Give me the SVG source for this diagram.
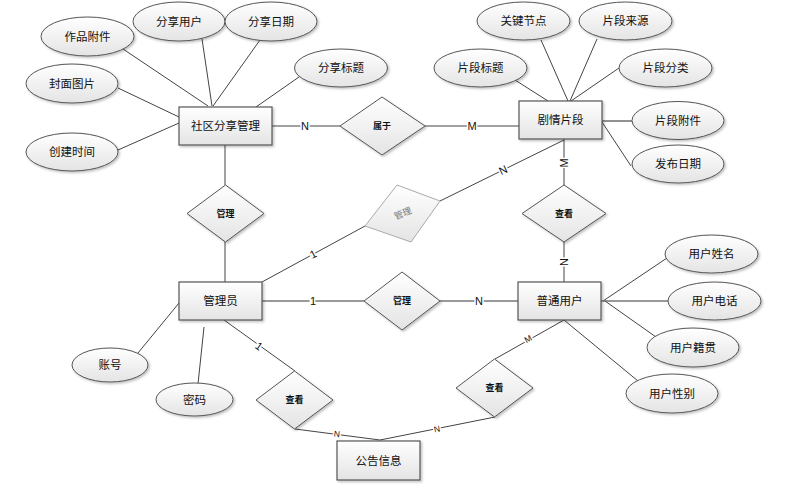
<svg xmlns="http://www.w3.org/2000/svg" width="790" height="489" viewBox="0 0 790 489">
<defs>
<linearGradient id="g" x1="0" y1="0" x2="0" y2="1"><stop offset="0" stop-color="#ffffff"/><stop offset="1" stop-color="#e4e4e4"/></linearGradient>
<filter id="sh" x="-20%" y="-20%" width="150%" height="150%"><feDropShadow dx="1.5" dy="1.5" stdDeviation="1" flood-color="#000" flood-opacity="0.25"/></filter>
</defs>
<style>
.ent{fill:url(#g);stroke:#555;stroke-width:1.2;filter:url(#sh)}
.att{fill:url(#g);stroke:#555;stroke-width:1;filter:url(#sh)}
.rel{fill:url(#g);stroke:#555;stroke-width:1;filter:url(#sh)}
.t{font-family:"Liberation Sans","Noto Sans CJK SC",sans-serif;font-size:11.5px;fill:#111;text-anchor:middle;dominant-baseline:central}
.r{font-family:"Liberation Sans","Noto Sans CJK SC",sans-serif;font-size:9px;font-weight:bold;fill:#111;text-anchor:middle;dominant-baseline:central}
.c line{stroke:#444;stroke-width:1}
.lb{font-family:"Liberation Sans","Noto Sans",sans-serif;font-size:11px;fill:#111;text-anchor:middle;dominant-baseline:central;stroke:#fff;stroke-width:3;paint-order:stroke}
.sm{font-size:8.5px}
</style>
<rect width="790" height="489" fill="#fff"/>
<g id="connectors" class="c">
<line x1="123" y1="49" x2="208" y2="106"/>
<line x1="202" y1="39" x2="212" y2="106"/>
<line x1="260" y1="40" x2="213" y2="106"/>
<line x1="299" y1="77" x2="256" y2="107"/>
<line x1="118" y1="88" x2="179" y2="117"/>
<line x1="118" y1="150" x2="179" y2="123"/>
<line x1="272" y1="126" x2="340" y2="126"/>
<line x1="425" y1="126" x2="519" y2="126"/>
<line x1="225" y1="145" x2="225" y2="185"/>
<line x1="225" y1="242" x2="225" y2="282"/>
<line x1="515" y1="80" x2="548" y2="101"/>
<line x1="541" y1="40" x2="568" y2="101"/>
<line x1="597" y1="39" x2="570" y2="101"/>
<line x1="619" y1="68" x2="571" y2="101"/>
<line x1="602" y1="121" x2="632" y2="121" style="stroke:#777;stroke-width:1.6"/>
<line x1="602" y1="122" x2="631" y2="166"/>
<line x1="564" y1="139" x2="564" y2="185"/>
<line x1="564" y1="242" x2="564" y2="282"/>
<line x1="564" y1="140" x2="440" y2="201"/>
<line x1="262" y1="282" x2="365" y2="226"/>
<line x1="262" y1="301" x2="364" y2="301" style="stroke:#777;stroke-width:1.6"/>
<line x1="440" y1="301" x2="518" y2="301" style="stroke:#777;stroke-width:1.6"/>
<line x1="138" y1="353" x2="179" y2="303"/>
<line x1="204" y1="327" x2="198" y2="384"/>
<line x1="224" y1="320" x2="295" y2="371"/>
<line x1="295" y1="429" x2="380" y2="440"/>
<line x1="495" y1="417" x2="380" y2="440"/>
<line x1="564" y1="320" x2="495" y2="359"/>
<line x1="667" y1="258" x2="603" y2="301"/>
<line x1="601" y1="301" x2="668" y2="301" style="stroke:#777;stroke-width:1.6"/>
<line x1="605" y1="301" x2="656" y2="337"/>
<line x1="564" y1="320" x2="638" y2="381"/>
<text class="lb" x="305" y="126">N</text>
<text class="lb" x="472" y="126">M</text>
<text class="lb" x="564" y="163" transform="rotate(-90 564 163)">M</text>
<text class="lb" x="564" y="262" transform="rotate(-90 564 262)">N</text>
<text class="lb" x="503" y="170" transform="rotate(-26 503 170)">N</text>
<text class="lb" x="313" y="254" transform="rotate(-28 313 254)">1</text>
<text class="lb" x="313" y="301">1</text>
<text class="lb" x="479" y="301">N</text>
<text class="lb" x="259" y="346" transform="rotate(36 259 346)">1</text>
<text class="lb sm" x="337" y="434" transform="rotate(7 337 434)">N</text>
<text class="lb sm" x="437" y="429" transform="rotate(-11 437 429)">N</text>
<text class="lb sm" x="528" y="339" transform="rotate(-30 528 339)">M</text>
</g>
<g id="e-shequ"><rect class="ent" x="179" y="107" width="93" height="38"/><text class="t" x="225.5" y="126">社区分享管理</text></g>
<g id="e-juqing"><rect class="ent" x="519" y="101" width="83" height="38"/><text class="t" x="560.5" y="120">剧情片段</text></g>
<g id="e-admin"><rect class="ent" x="179" y="282" width="83" height="38"/><text class="t" x="220.5" y="301">管理员</text></g>
<g id="e-user"><rect class="ent" x="518" y="282" width="83" height="38"/><text class="t" x="559.5" y="301">普通用户</text></g>
<g id="e-notice"><rect class="ent" x="337" y="441" width="83" height="39"/><text class="t" x="378.5" y="460.5">公告信息</text></g>
<g id="r-shuyu"><polygon class="rel" points="382,97 425,126 382,155 340,126"/><text class="r" x="382" y="126">属于</text></g>
<g id="r-guanli1"><polygon class="rel" points="225.5,185 264,213.5 225.5,242 187,213.5"/><text class="r" x="225.5" y="213.5">管理</text></g>
<g id="r-chakan1"><polygon class="rel" points="564,185 606,213.5 564,242 522,213.5"/><text class="r" x="564" y="213.5">查看</text></g>
<g id="r-guanli2"><polygon points="397,185 440,201 411,242 365,226" style="fill:url(#g);stroke:#aaa;stroke-width:1"/><text class="r" x="403" y="213.5" style="fill:#777;font-weight:normal" transform="rotate(-22 403 213.5)">管理</text></g>
<g id="r-guanli3"><polygon class="rel" points="402,272 440,301 402,330 364,301"/><text class="r" x="402" y="301">管理</text></g>
<g id="r-chakan2"><polygon class="rel" points="294.5,371 333,400 294.5,429 256,400"/><text class="r" x="294.5" y="400">查看</text></g>
<g id="r-chakan3"><polygon class="rel" points="494.5,359 533,388 494.5,417 456,388"/><text class="r" x="494.5" y="388">查看</text></g>
<g id="a-zuopin"><ellipse class="att" cx="87.5" cy="36.5" rx="46.5" ry="19.5"/><text class="t" x="87.5" y="36.5">作品附件</text></g>
<g id="a-fxyh"><ellipse class="att" cx="179" cy="21.5" rx="46" ry="19.5"/><text class="t" x="179" y="21.5">分享用户</text></g>
<g id="a-fxrq"><ellipse class="att" cx="271" cy="21.5" rx="46" ry="19.5"/><text class="t" x="271" y="21.5">分享日期</text></g>
<g id="a-fxbt"><ellipse class="att" cx="341" cy="68" rx="46.5" ry="19"/><text class="t" x="341" y="68">分享标题</text></g>
<g id="a-fmtp"><ellipse class="att" cx="72" cy="83.5" rx="46" ry="19.5"/><text class="t" x="72" y="83.5">封面图片</text></g>
<g id="a-cjsj"><ellipse class="att" cx="72" cy="152" rx="46" ry="19"/><text class="t" x="72" y="152">创建时间</text></g>
<g id="a-gjjd"><ellipse class="att" cx="523.5" cy="21" rx="46.5" ry="19"/><text class="t" x="523.5" y="21">关键节点</text></g>
<g id="a-pdly"><ellipse class="att" cx="625.5" cy="21" rx="46.5" ry="19"/><text class="t" x="625.5" y="21">片段来源</text></g>
<g id="a-pdbt"><ellipse class="att" cx="480.5" cy="68" rx="46.5" ry="19"/><text class="t" x="480.5" y="68">片段标题</text></g>
<g id="a-pdfl"><ellipse class="att" cx="665.5" cy="68" rx="46.5" ry="19"/><text class="t" x="665.5" y="68">片段分类</text></g>
<g id="a-pdfj"><ellipse class="att" cx="678" cy="120.5" rx="46" ry="19"/><text class="t" x="678" y="120.5">片段附件</text></g>
<g id="a-fbrq"><ellipse class="att" cx="678" cy="164" rx="46" ry="19"/><text class="t" x="678" y="164">发布日期</text></g>
<g id="a-zh"><ellipse class="att" cx="110" cy="365" rx="38" ry="17"/><text class="t" x="110" y="365">账号</text></g>
<g id="a-mm"><ellipse class="att" cx="194.5" cy="399.5" rx="38.5" ry="16.5"/><text class="t" x="194.5" y="399.5">密码</text></g>
<g id="a-yhxm"><ellipse class="att" cx="711.5" cy="254" rx="46.5" ry="19"/><text class="t" x="711.5" y="254">用户姓名</text></g>
<g id="a-yhdh"><ellipse class="att" cx="714.5" cy="301" rx="46.5" ry="19"/><text class="t" x="714.5" y="301">用户电话</text></g>
<g id="a-yhjg"><ellipse class="att" cx="693" cy="347.5" rx="46" ry="19.5"/><text class="t" x="693" y="347.5">用户籍贯</text></g>
<g id="a-yhxb"><ellipse class="att" cx="672" cy="393.5" rx="46" ry="19.5"/><text class="t" x="672" y="393.5">用户性别</text></g>
</svg>
